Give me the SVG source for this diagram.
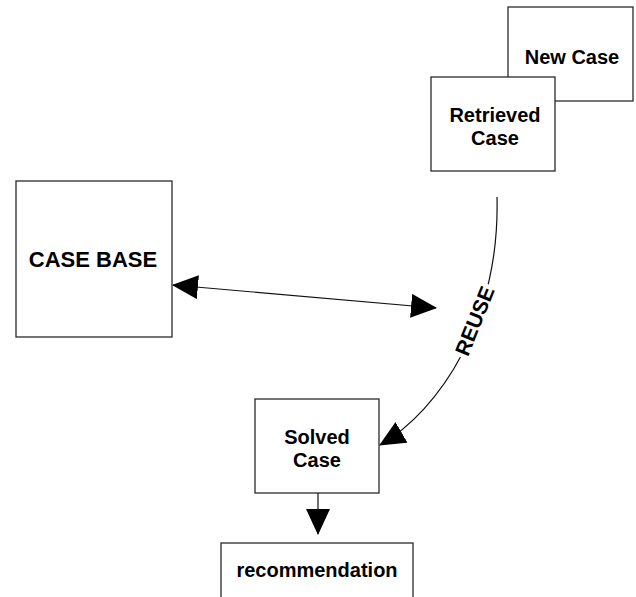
<svg xmlns="http://www.w3.org/2000/svg" width="636" height="597" viewBox="0 0 636 597">
  <style>
    .box { fill: #ffffff; stroke: #2a2a2a; stroke-width: 1.3; }
    .label { font-family: "Liberation Sans", Arial, sans-serif; font-weight: bold; font-size: 20px; fill: #000000; text-anchor: middle; }
    .link { fill: none; stroke: #111111; stroke-width: 1.2; }
  </style>
  <defs>
    <marker id="head" markerUnits="userSpaceOnUse" markerWidth="26" markerHeight="24" viewBox="0 0 25 23" refX="24" refY="11.5" orient="auto-start-reverse">
      <path d="M0,0 L25,11.5 L0,23 Z" fill="#000000"/>
    </marker>
  </defs>

  <rect width="636" height="597" fill="#ffffff"/>

  <!-- connectors -->
  <g id="connectors">
    <line class="link" x1="173" y1="285" x2="436" y2="308" marker-start="url(#head)" marker-end="url(#head)"/>
    <path class="link" d="M497,197 C500,320 440,410 380,445" marker-end="url(#head)"/>
    <line class="link" x1="318" y1="493" x2="318" y2="534" marker-end="url(#head)"/>
    <g transform="translate(475,321) rotate(-68)">
      <rect x="-39" y="-9" width="78" height="18" fill="#ffffff"/>
      <text class="label" x="0" y="7" style="font-size:21px">REUSE</text>
    </g>
  </g>

  <!-- nodes -->
  <g id="new-case">
    <rect class="box" x="508" y="7" width="125" height="94"/>
    <text class="label" x="572" y="64">New Case</text>
  </g>
  <g id="retrieved-case">
    <rect class="box" x="431" y="77" width="124" height="94"/>
    <text class="label" x="495" y="122">Retrieved</text>
    <text class="label" x="495" y="145">Case</text>
  </g>
  <g id="case-base">
    <rect class="box" x="16" y="181" width="156" height="156"/>
    <text class="label" x="93" y="267" style="font-size:22px">CASE BASE</text>
  </g>
  <g id="solved-case">
    <rect class="box" x="255" y="399" width="124" height="94"/>
    <text class="label" x="317" y="444">Solved</text>
    <text class="label" x="317" y="467">Case</text>
  </g>
  <g id="recommendation">
    <rect class="box" x="221" y="543" width="192" height="60"/>
    <text class="label" x="317" y="577">recommendation</text>
  </g>
</svg>
